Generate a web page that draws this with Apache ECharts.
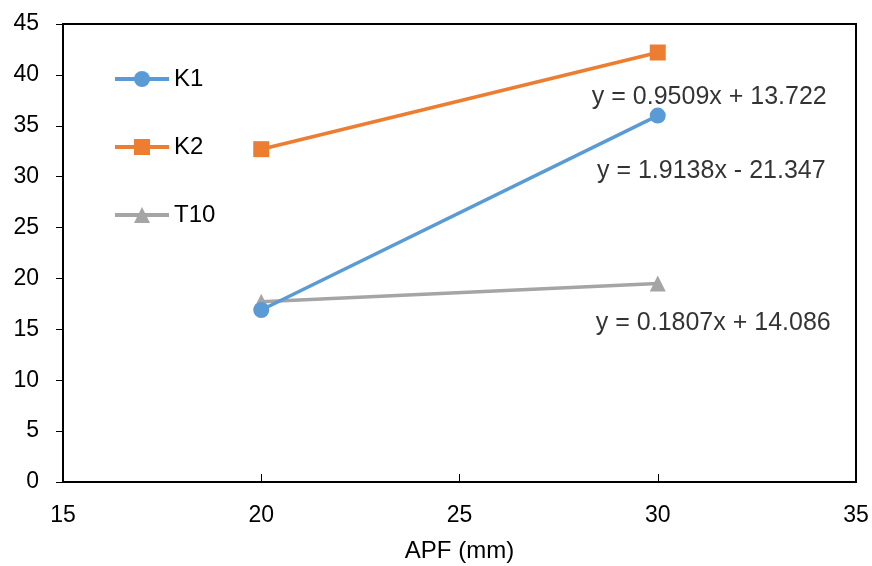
<!DOCTYPE html>
<html><head><meta charset="utf-8">
<script src="https://cdn.jsdelivr.net/npm/echarts@6/dist/echarts.min.js"></script>
<style>html,body{margin:0;padding:0;background:#fff}#c{width:872px;height:566px}</style>
</head><body><div id="c"></div>
<script>
const xValues = [20, 30];
const k1 = [16.9, 36.0];
const k2 = [32.7, 42.2];
const t10 = [17.7, 19.5];
const seriesNames = ['K1', 'K2', 'T10'];
const equations = ['y = 0.9509x + 13.722', 'y = 1.9138x - 21.347', 'y = 0.1807x + 14.086'];
const eqPos = [[31.3, 37.8], [31.35, 30.5], [31.4, 15.6]];
const xTitle = 'APF (mm)';

const font = '"Liberation Sans", Arial, sans-serif';
const colors = ['#5B9BD5', '#ED7D31', '#A5A5A5'];
const symbols = ['circle', 'rect', 'triangle'];
const allData = [k1, k2, t10];

const chart = echarts.init(document.getElementById('c'));
const series = allData.map((d, i) => ({
  name: seriesNames[i], type: 'line',
  data: xValues.map((x, j) => [x, d[j]]),
  symbol: symbols[i], symbolSize: 16,
  showAllSymbol: true,
  lineStyle: {color: colors[i], width: 3.5},
  itemStyle: {color: colors[i]},
  emphasis: {disabled: true},
  z: 5 - i
}));
series.push({
  type: 'scatter', silent: true, symbolSize: 0,
  data: eqPos.map((p, i) => ({value: p, label: {formatter: equations[i]}})),
  label: {show: true, position: 'inside', color: '#000', fontSize: 25, fontFamily: font}
});
chart.setOption({
  animation: false,
  textStyle: {fontFamily: font},
  grid: {left: 63, right: 16, top: 24, bottom: 84, show: true, borderColor: '#000', borderWidth: 2,
         backgroundColor: 'transparent', containLabel: false, outerBoundsMode: 'none'},
  legend: {
    data: seriesNames, orient: 'vertical', left: 108, top: 62,
    itemWidth: 54, itemHeight: 20, itemGap: 44,
    lineStyle: {width: 4},
    textStyle: {fontSize: 24, lineHeight: 24, color: '#000', fontFamily: font}
  },
  xAxis: {
    type: 'value', min: 15, max: 35, interval: 5,
    name: xTitle, nameLocation: 'middle', nameGap: 57,
    nameTextStyle: {fontSize: 24, color: '#000', fontFamily: font},
    axisLine: {show: true, lineStyle: {color: '#000', width: 2}},
    axisTick: {show: true, inside: true, length: 8, lineStyle: {color: '#000', width: 1}},
    axisLabel: {fontSize: 23, color: '#000', margin: 22, fontFamily: font},
    splitLine: {show: false}
  },
  yAxis: {
    type: 'value', min: 0, max: 45, interval: 5,
    axisLine: {show: true, lineStyle: {color: '#000', width: 2}},
    axisTick: {show: true, inside: false, length: 7, lineStyle: {color: '#000', width: 1}},
    axisLabel: {fontSize: 23, color: '#000', margin: 24, fontFamily: font},
    splitLine: {show: false}
  },
  series: series
});
</script></body></html>
